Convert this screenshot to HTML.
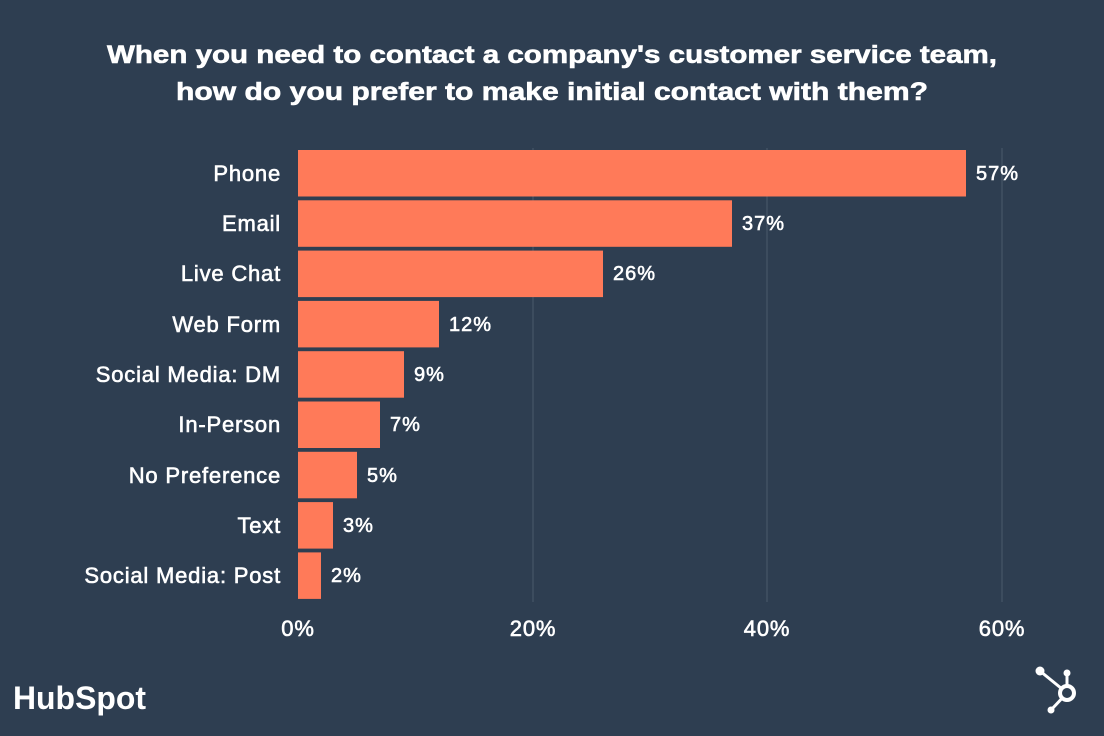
<!DOCTYPE html>
<html><head><meta charset="utf-8"><style>
html,body{margin:0;padding:0;background:#2e3e51;}
svg{display:block;font-family:"Liberation Sans",sans-serif;}
</style></head><body>
<svg width="1104" height="736" viewBox="0 0 1104 736" xmlns="http://www.w3.org/2000/svg">
<rect width="1104" height="736" fill="#2e3e51"/>
<g fill="#fff" font-weight="bold" font-size="25" text-anchor="middle" stroke="#fff" stroke-width="0.6">
<text x="552" y="63" textLength="890" lengthAdjust="spacingAndGlyphs">When you need to contact a company's customer service team,</text>
<text x="552" y="100" textLength="752" lengthAdjust="spacingAndGlyphs">how do you prefer to make initial contact with them?</text>
</g>
<g stroke="#4a5a6b" stroke-width="1">
<line x1="533" y1="148" x2="533" y2="602"/>
<line x1="767" y1="148" x2="767" y2="602"/>
<line x1="1002" y1="148" x2="1002" y2="602"/>
</g>
<g fill="#ff7a59">
<rect x="298" y="150" width="668" height="46.5"/>
<rect x="298" y="200.3" width="434" height="46.5"/>
<rect x="298" y="250.6" width="305" height="46.5"/>
<rect x="298" y="300.9" width="141" height="46.5"/>
<rect x="298" y="351.2" width="106" height="46.5"/>
<rect x="298" y="401.5" width="82" height="46.5"/>
<rect x="298" y="451.8" width="59" height="46.5"/>
<rect x="298" y="502.1" width="35" height="46.5"/>
<rect x="298" y="552.4" width="23" height="46.5"/>
</g>
<g fill="#fff" font-size="22" text-anchor="end" letter-spacing="0.8" stroke="#fff" stroke-width="0.6">
<text x="281" y="181">Phone</text>
<text x="281" y="231">Email</text>
<text x="281" y="281">Live Chat</text>
<text x="281" y="332">Web Form</text>
<text x="281" y="382">Social Media: DM</text>
<text x="281" y="432">In-Person</text>
<text x="281" y="483">No Preference</text>
<text x="281" y="533">Text</text>
<text x="281" y="583">Social Media: Post</text>
</g>
<g fill="#fff" font-size="20" letter-spacing="1" stroke="#fff" stroke-width="0.6">
<text x="976" y="180">57%</text>
<text x="742" y="230">37%</text>
<text x="613" y="280">26%</text>
<text x="449" y="331">12%</text>
<text x="414" y="381">9%</text>
<text x="390" y="431">7%</text>
<text x="367" y="482">5%</text>
<text x="343" y="532">3%</text>
<text x="331" y="582">2%</text>
</g>
<g fill="#fff" font-size="22" text-anchor="middle" letter-spacing="0.8" stroke="#fff" stroke-width="0.6">
<text x="298" y="636">0%</text>
<text x="533" y="636">20%</text>
<text x="767" y="636">40%</text>
<text x="1002" y="636">60%</text>
</g>
<text x="13" y="709" fill="#fff" font-size="32" font-weight="bold" textLength="133" lengthAdjust="spacingAndGlyphs">HubSpot</text>
<g fill="#fff" stroke="#fff">
<line x1="1040" y1="671" x2="1067" y2="693" stroke-width="3"/>
<line x1="1067" y1="673" x2="1067" y2="693" stroke-width="3"/>
<line x1="1051" y1="710" x2="1067" y2="693" stroke-width="3"/>
<circle cx="1040" cy="671" r="4.5" stroke="none"/>
<circle cx="1067" cy="673" r="3.5" stroke="none"/>
<circle cx="1051" cy="710" r="3.5" stroke="none"/>
<circle cx="1067" cy="693" r="7" fill="#2e3e51" stroke-width="4"/>
</g>
</svg>
</body></html>
